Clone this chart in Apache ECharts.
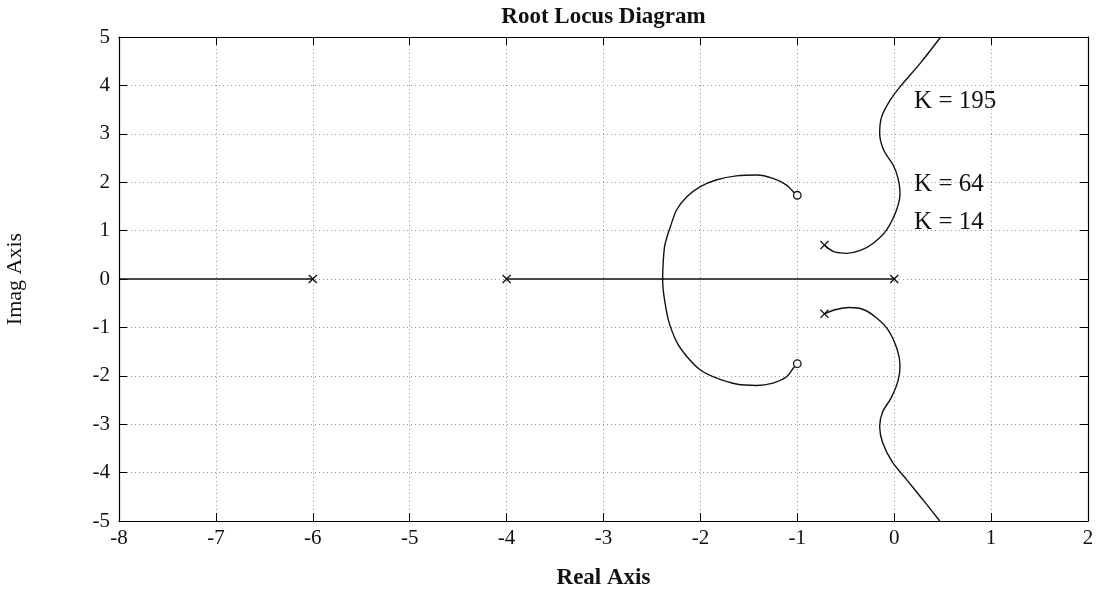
<!DOCTYPE html>
<html><head><meta charset="utf-8">
<script src="https://cdn.jsdelivr.net/npm/echarts@6/dist/echarts.min.js"></script>
<style>html,body{margin:0;padding:0;background:#fff}#c{width:1099px;height:591px}</style>
</head><body><div id="c"></div>
<script>
// Root locus data (real, imaginary)
const realAxisLeft = [[-8, 0], [-6, 0]];
const realAxisRight = [[-4, 0], [0, 0]];
const arcUpper = [[-2.39,0],[-2.385,0.3],[-2.37,0.67],[-2.34,0.9],[-2.31,1.08],[-2.245,1.43],[-2.14,1.70],[-2.0,1.91],[-1.83,2.05],[-1.63,2.13],[-1.42,2.15],[-1.25,2.08],[-1.11,1.94],[-1.04,1.80],[-1.0,1.73]];
const arcLower = [[-2.39,0],[-2.385,-0.2],[-2.37,-0.43],[-2.33,-0.85],[-2.245,-1.30],[-2.14,-1.60],[-2.0,-1.88],[-1.83,-2.05],[-1.63,-2.17],[-1.42,-2.20],[-1.25,-2.15],[-1.11,-2.02],[-1.04,-1.84],[-1.0,-1.75]];
const branchUpper = [[-0.72,0.70],[-0.63,0.57],[-0.56,0.54],[-0.49,0.53],[-0.35,0.59],[-0.216,0.74],[-0.08,1.01],[0.025,1.43],[0.06,1.77],[0.04,2.08],[-0.01,2.35],[-0.11,2.67],[-0.15,3.01],[-0.13,3.35],[-0.04,3.70],[0.06,3.97],[0.27,4.46],[0.48,5.0]];
const branchLower = [[-0.72,-0.72],[-0.6,-0.63],[-0.46,-0.59],[-0.32,-0.63],[-0.19,-0.79],[-0.06,-1.06],[0.03,-1.45],[0.06,-1.78],[0.04,-2.1],[-0.03,-2.45],[-0.12,-2.75],[-0.15,-3.05],[-0.12,-3.38],[-0.02,-3.78],[0.13,-4.15],[0.30,-4.57],[0.47,-5.0]];
const poles = [[-6,0],[-4,0],[0,0],[-0.72,0.70],[-0.72,-0.72]];
const zeros = [[-1,1.73],[-1,-1.75]];
const kLabels = [['K = 195',0.2,3.66],['K = 64',0.2,1.96],['K = 14',0.2,1.16]];
const xTicks = [-8,-7,-6,-5,-4,-3,-2,-1,0,1,2];
const yTicks = [-5,-4,-3,-2,-1,0,1,2,3,4,5];

const FONT = 'Liberation Serif';
const crossPath = 'path://M0,1L1,0L5,4L9,0L10,1L6,5L10,9L9,10L5,6L1,10L0,9L4,5Z';
const chart = echarts.init(document.getElementById('c'));
const lineStyle = {color:'#111', width:1.4};
function lineSeries(data){
  return {type:'line', data, showSymbol:false, symbol:'none', smooth:0.3, lineStyle, silent:true, z:3};
}
function baseAxis(){
  return {
    axisLine:{show:true, onZero:false, lineStyle:{color:'#000', width:1.2}},
    axisTick:{show:true, inside:true, length:8, lineStyle:{color:'#000'}},
  };
}
chart.setOption({
  animation:false,
  backgroundColor:'#fff',
  grid:{left:119, right:11, top:37, bottom:70, containLabel:false, outerBoundsMode:'none'},
  xAxis:[
    Object.assign({type:'value', min:xTicks[0], max:xTicks[xTicks.length-1], interval:1, position:'bottom',
      name:'Real Axis', nameLocation:'middle', nameGap:46,
      nameTextStyle:{fontFamily:FONT, fontSize:23, fontWeight:'bold', color:'#111'},
      axisLabel:{fontFamily:FONT, fontSize:21, color:'#111', margin:7},
      splitLine:{show:true, lineStyle:{type:[1,3], color:'#999'}}}, baseAxis()),
    Object.assign({type:'value', min:xTicks[0], max:xTicks[xTicks.length-1], interval:1, position:'top',
      name:'Root Locus Diagram', nameLocation:'middle', nameGap:8,
      nameTextStyle:{fontFamily:FONT, fontSize:23, fontWeight:'bold', color:'#111'},
      axisLabel:{show:false}, splitLine:{show:false}}, baseAxis())
  ],
  yAxis:[
    Object.assign({type:'value', min:yTicks[0], max:yTicks[yTicks.length-1], interval:1, position:'left',
      name:'Imag Axis', nameLocation:'middle', nameGap:93, nameRotate:90,
      nameTextStyle:{fontFamily:FONT, fontSize:22, color:'#111'},
      axisLabel:{fontFamily:FONT, fontSize:21, color:'#111', margin:9},
      splitLine:{show:true, lineStyle:{type:[1,3], color:'#999'}}}, baseAxis()),
    Object.assign({type:'value', min:yTicks[0], max:yTicks[yTicks.length-1], interval:1, position:'right',
      axisLabel:{show:false}, splitLine:{show:false}}, baseAxis())
  ],
  series:[
    Object.assign(lineSeries(realAxisLeft),{smooth:false}),
    Object.assign(lineSeries(realAxisRight),{smooth:false}),
    lineSeries(arcUpper), lineSeries(arcLower),
    lineSeries(branchUpper), lineSeries(branchLower),
    {type:'scatter', data:poles, symbol:crossPath, symbolSize:9, itemStyle:{color:'#111', opacity:1}, z:5},
    {type:'scatter', data:zeros, symbol:'circle', symbolSize:7.5, itemStyle:{color:'#fff', borderColor:'#111', borderWidth:1.3, opacity:1}, z:5},
    {type:'scatter', data:kLabels.map(k=>[k[1],k[2],k[0]]), symbol:'circle', symbolSize:1,
      itemStyle:{color:'#fff', opacity:1},
      label:{show:true, position:'right', distance:0, formatter:p=>p.data[2], fontFamily:FONT, fontSize:25, color:'#111'}, z:6}
  ]
});
</script></body></html>
